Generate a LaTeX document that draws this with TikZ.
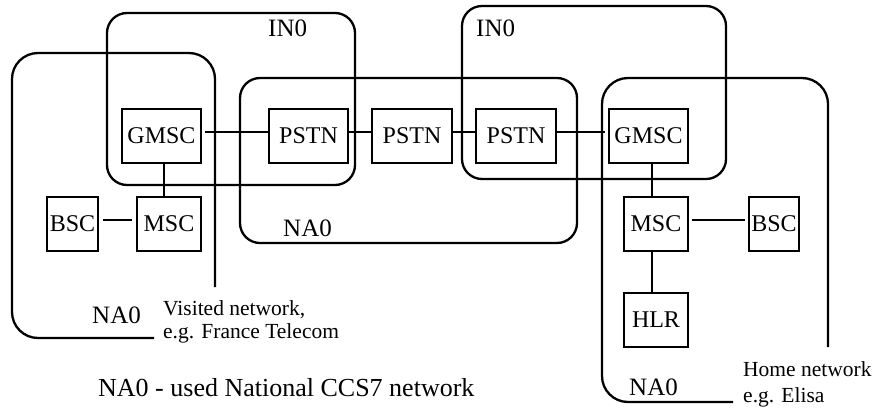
\documentclass[tikz,border=0pt]{standalone}
\usepackage{fontspec}
\setmainfont{Liberation Serif}
\begin{document}
\begin{tikzpicture}[x=1pt,y=-1pt,
  outline/.style={line width=2.3pt},
  box/.style={draw, line width=1.9pt, inner sep=0pt, minimum height=54pt, font=\fontsize{24}{24}\selectfont},
  link/.style={line width=1.9pt},
  lbl/.style={anchor=base west, inner sep=0pt, font=\fontsize{25}{25}\selectfont},
  note/.style={anchor=base west, inner sep=0pt, font=\fontsize{21.5}{24}\selectfont}]
\useasboundingbox (0,0) rectangle (889,410);

% network outlines
\draw[outline, rounded corners=26pt] (154,338) -- (12,338) -- (12,53) -- (215,53) -- (215,287);
\draw[outline, rounded corners=20pt] (107,13) rectangle (355,185);
\draw[outline, rounded corners=20pt] (240,78) rectangle (577,243);
\draw[outline, rounded corners=20pt] (462,6) rectangle (726,179);
\draw[outline, rounded corners=26pt] (733,402) -- (602,402) -- (602,78) -- (828,78) -- (828,347);

% outline labels
\node[lbl] (in0L) at (268,36) {IN0};
\node[lbl] (in0R) at (476,36) {IN0};
\node[lbl] (na0M) at (283,236) {NA0};
\node[lbl] (na0V) at (92,323) {NA0};
\node[lbl] (na0H) at (629,395) {NA0};

% elements
\node[box, minimum width=79pt] (gmscL) at (161.5,136) {GMSC};
\node[box, minimum width=79pt] (pstnA) at (308.5,136) {PSTN};
\node[box, minimum width=80pt] (pstnB) at (412,136) {PSTN};
\node[box, minimum width=80pt] (pstnC) at (516,136) {PSTN};
\node[box, minimum width=79pt] (gmscR) at (648.5,136) {GMSC};
\node[box, minimum width=51pt] (bscL) at (72.5,224) {BSC};
\node[box, minimum width=64pt] (mscL) at (169,224) {MSC};
\node[box, minimum width=64pt] (mscR) at (656,224) {MSC};
\node[box, minimum width=50pt] (bscR) at (774,224) {BSC};
\node[box, minimum width=64pt] (hlr) at (656,320) {HLR};

% connectors
\draw[link, shorten <=3pt] ([yshift=4pt]gmscL.east) -- ([yshift=4pt]pstnA.west);
\draw[link] ([yshift=4pt]pstnA.east) -- ([yshift=4pt]pstnB.west);
\draw[link] ([yshift=4pt]pstnB.east) -- ([yshift=4pt]pstnC.west);
\draw[link, shorten >=3pt] ([yshift=4pt]pstnC.east) -- ([yshift=4pt]gmscR.west);
\draw[link, shorten <=4pt, shorten >=4pt] ([yshift=4pt]bscL.east) -- ([yshift=4pt]mscL.west);
\draw[link, shorten <=3pt, shorten >=3pt] ([yshift=4pt]mscR.east) -- ([yshift=4pt]bscR.west);
\draw[link] ([xshift=2.5pt]gmscL.south) -- ([xshift=2.5pt]gmscL.south |- mscL.north);
\draw[link] ([xshift=3.5pt]gmscR.south) -- ([xshift=3.5pt]gmscR.south |- mscR.north);
\draw[link] ([xshift=-4pt]mscR.south) -- ([xshift=-4pt]hlr.north);

% notes
\node[note] (visA) at (163,315) {Visited network,};
\node[note] (visB) at (163,338) {e.g. France Telecom};
\node[note] (homeA) at (743,376) {Home network};
\node[note] (homeB) at (743,402) {e.g. Elisa};
\node[anchor=base west, inner sep=0pt, font=\fontsize{26}{26}\selectfont] (caption) at (98,396) {NA0 - used National CCS7 network};
\end{tikzpicture}
\end{document}
